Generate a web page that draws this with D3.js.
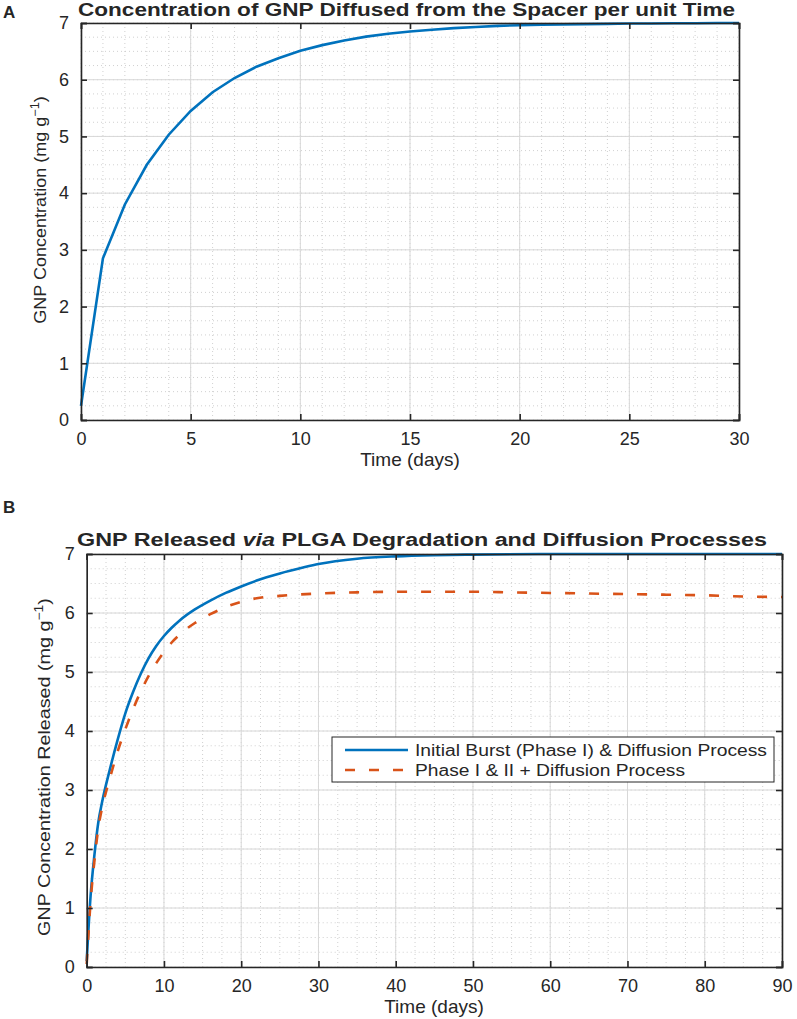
<!DOCTYPE html>
<html><head><meta charset="utf-8">
<script src="https://cdn.jsdelivr.net/npm/d3@7"></script>
<style>
body{margin:0;background:#fff;}
text{font-family:"Liberation Sans",Arial,Helvetica,sans-serif;fill:#262626;}
</style></head>
<body>
<svg id="c" width="797" height="1019"></svg>
<script>
// ---- Data ----
// Panel A: GNP diffused from the spacer (daily)
const daysA = [0,1,2,3,4,5,6,7,8,9,10,11,12,13,14,15,16,17,18,19,20,21,22,23,24,25,26,27,28,29,30];
const concA = [0.25,2.85,3.80,4.50,5.03,5.45,5.78,6.03,6.23,6.38,6.51,6.61,6.69,6.76,6.81,6.85,6.88,6.91,6.93,6.95,6.96,6.97,6.975,6.98,6.985,6.99,6.99,6.995,6.995,7.0,7.0];
// Panel B
const daysB1 = [0,0.5,1,1.5,2,3,4,5,6,7,8,9,10,11,12,14,16,18,20,22,25,28,30,35,40,45,50,60,70,80,90];
const burstB = [0.1,1.2,1.9,2.45,2.8,3.35,3.85,4.30,4.66,4.97,5.23,5.44,5.61,5.75,5.87,6.06,6.21,6.34,6.45,6.55,6.67,6.77,6.83,6.92,6.96,6.98,6.99,7.0,7.0,7.0,7.0];
const daysB2 = [0,0.5,1,1.5,2,3,4,5,6,7,8,9,10,11,12,14,16,18,20,22,25,30,35,40,45,50,55,60,65,70,75,80,85,90];
const phaseB = [0.05,1.1,1.8,2.35,2.7,3.2,3.65,4.03,4.37,4.67,4.93,5.15,5.34,5.50,5.63,5.83,5.98,6.10,6.19,6.25,6.29,6.33,6.35,6.36,6.36,6.36,6.35,6.34,6.33,6.32,6.31,6.30,6.28,6.27];
const ticksYA = [0,1,2,3,4,5,6,7];
const ticksXA = [0,5,10,15,20,25,30];
const ticksXB = [0,10,20,30,40,50,60,70,80,90];
const legendLabels = ["Initial Burst (Phase I) & Diffusion Process","Phase I & II + Diffusion Process"];

const svg = d3.select("#c");
const AX = "#262626", BLUE="#0072BD", RED="#D95319";

function panel(o){
  const g = svg.append("g");
  const x = d3.scaleLinear().domain(o.xd).range([o.l,o.r]);
  const y = d3.scaleLinear().domain([0,7]).range([o.b,o.t]);
  // minor grid
  d3.range(o.xd[0],o.xd[1]+1e-9,o.xminor).forEach(v=>{
    g.append("line").attr("x1",x(v)).attr("x2",x(v)).attr("y1",o.t).attr("y2",o.b)
     .attr("stroke","#c4c4c4").attr("stroke-width",0.8).attr("stroke-dasharray","1,3");
  });
  d3.range(0,7+1e-9,0.25).forEach(v=>{
    g.append("line").attr("x1",o.l).attr("x2",o.r).attr("y1",y(v)).attr("y2",y(v))
     .attr("stroke","#c4c4c4").attr("stroke-width",0.8).attr("stroke-dasharray","1,3");
  });
  // major grid
  o.xt.forEach(v=>g.append("line").attr("x1",x(v)).attr("x2",x(v)).attr("y1",o.t).attr("y2",o.b).attr("stroke","#d8d8d8").attr("stroke-width",1));
  ticksYA.forEach(v=>g.append("line").attr("x1",o.l).attr("x2",o.r).attr("y1",y(v)).attr("y2",y(v)).attr("stroke","#d8d8d8").attr("stroke-width",1));
  // curves
  o.series.forEach(s=>{
    g.append("path").datum(d3.zip(s.x,s.y))
     .attr("d",d3.line().curve(o.curve).x(d=>x(d[0])).y(d=>y(d[1])))
     .attr("fill","none").attr("stroke",s.c).attr("stroke-width",2.6)
     .attr("stroke-dasharray",s.dash||null);
  });
  // axes
  const ab = g.append("g").attr("transform",`translate(0,${o.b})`).call(d3.axisBottom(x).tickValues(o.xt).tickSize(-6).tickPadding(12).tickFormat(d3.format("d")));
  const at = g.append("g").attr("transform",`translate(0,${o.t})`).call(d3.axisTop(x).tickValues(o.xt).tickSize(-6).tickFormat(""));
  const al = g.append("g").attr("transform",`translate(${o.l},0)`).call(d3.axisLeft(y).tickValues(ticksYA).tickSize(-6).tickPadding(12).tickFormat(d3.format("d")));
  const ar = g.append("g").attr("transform",`translate(${o.r},0)`).call(d3.axisRight(y).tickValues(ticksYA).tickSize(-6).tickFormat(""));
  [ab,at,al,ar].forEach(a=>{
    a.selectAll("path").attr("stroke",AX).attr("stroke-width",1.6);
    a.selectAll("line").attr("stroke",AX).attr("stroke-width",1.6);
    a.selectAll("text").style("font-family",'"Liberation Sans",Arial,sans-serif').style("font-size","18px").attr("fill",AX);
  });
  // title
  g.append("text").attr("x",o.tx).attr("y",o.ty).attr("text-anchor","start")
   .attr("textLength",o.tw).attr("lengthAdjust","spacingAndGlyphs")
   .style("font-size","18px").style("font-weight","bold").attr("fill","#000")
   .html(o.title);
  // x label
  g.append("text").attr("x",o.xlx).attr("y",o.xly).attr("text-anchor","middle")
   .style("font-size","19px").text("Time (days)");
  // y label
  const yl = g.append("text").attr("text-anchor","middle").style("font-size","17px");
  yl.append("tspan").text(o.ylabel+" (mg g");
  yl.append("tspan").attr("dy",-7).style("font-size","12px").text("\u22121");
  yl.append("tspan").attr("dy",7).text(")");
  const len = yl.node().getComputedTextLength();
  yl.attr("transform",`translate(${o.ylx},${o.yly}) rotate(-90) scale(${o.ylw/len},1)`);
  return {x,y,g};
}

panel({xd:[0,30], l:81, r:739, t:23, b:420, xminor:1, xt:ticksXA, curve:d3.curveLinear,
  series:[{x:daysA,y:concA,c:BLUE}],
  title:"Concentration of GNP Diffused from the Spacer per unit Time", tx:78, ty:16, tw:657,
  xlx:410, xly:466, ylx:46, yly:210, ylw:228, ylabel:"GNP Concentration"});

const pB = panel({xd:[0,90], l:86.7, r:782, t:554, b:967, xminor:2.5, xt:ticksXB, curve:d3.curveMonotoneX,
  series:[{x:daysB1,y:burstB,c:BLUE},{x:daysB2,y:phaseB,c:RED,dash:"10,14"}],
  title:"GNP Released <tspan font-style='italic'>via</tspan> PLGA Degradation and Diffusion Processes", tx:77, ty:546, tw:690,
  xlx:434, xly:1013, ylx:50, yly:767, ylw:338, ylabel:"GNP Concentration Released"});

// legend
const lg = svg.append("g");
lg.append("rect").attr("x",332).attr("y",737).attr("width",442).attr("height",45).attr("fill","#fff").attr("stroke",AX).attr("stroke-width",1);
[[BLUE,null],[RED,"10,14"]].forEach((s,i)=>{
  const yy = 750+i*20;
  lg.append("line").attr("x1",345).attr("x2",408).attr("y1",yy).attr("y2",yy).attr("stroke",s[0]).attr("stroke-width",2.6).attr("stroke-dasharray",s[1]);
  lg.append("text").attr("x",415).attr("y",yy+5.5).style("font-size","16px")
   .attr("textLength",i==0?352:270).attr("lengthAdjust","spacingAndGlyphs").text(legendLabels[i]);
});
// panel letters
svg.append("text").attr("x",3).attr("y",18).style("font-size","17px").style("font-weight","bold").attr("fill","#000").text("A");
svg.append("text").attr("x",3).attr("y",513).style("font-size","17px").style("font-weight","bold").attr("fill","#000").text("B");
</script>
</body></html>
